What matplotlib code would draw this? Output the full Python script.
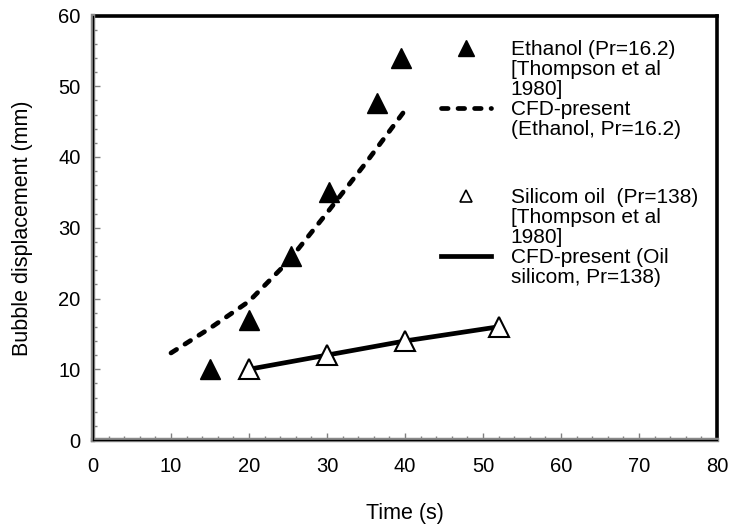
import matplotlib
matplotlib.use("Agg")
import matplotlib.pyplot as plt
from matplotlib.lines import Line2D
from matplotlib.ticker import MultipleLocator

plt.rcParams['font.family'] = ['Liberation Sans', 'DejaVu Sans']

# Experimental ethanol (Thompson et al 1980)
eth_t = [15, 20, 25.4, 30.3, 36.4, 39.5]
eth_y = [10, 17, 26, 35, 47.6, 54]
# CFD ethanol
cfd_eth_t = [10, 15, 20, 25, 30, 35, 40]
cfd_eth_y = [12.3, 15.8, 19.6, 25.2, 32.1, 39.2, 46.6]
# Experimental silicone oil
oil_t = [20, 30, 40, 52]
oil_y = [10, 12, 14, 16]
# CFD oil
cfd_oil_t = [20, 30, 40, 52]
cfd_oil_y = [10, 12, 14, 16]

x_ticks = [0, 10, 20, 30, 40, 50, 60, 70, 80]
y_ticks = [0, 10, 20, 30, 40, 50, 60]

fig = plt.figure(figsize=(7.3, 5.25), dpi=100)
ax = fig.add_axes([93/730, 85/525, 624/730, 424.5/525])

ax.plot(cfd_eth_t, cfd_eth_y, color='black', lw=3.4,
        linestyle=(0, (1.4, 2.1)), dash_capstyle='round', zorder=2)
ax.plot(cfd_oil_t, cfd_oil_y, color='black', lw=3.4, solid_capstyle='butt', zorder=2)
ax.plot(eth_t, eth_y, linestyle='none', marker='^', markersize=15,
        markerfacecolor='black', markeredgecolor='black', zorder=3)
ax.plot(oil_t, oil_y, linestyle='none', marker='^', markersize=15,
        markerfacecolor='white', markeredgecolor='black', markeredgewidth=1.5, zorder=3)

ax.set_xlim(0, 80)
ax.set_ylim(0, 60)
ax.set_xticks(x_ticks)
ax.set_yticks(y_ticks)
ax.xaxis.set_minor_locator(MultipleLocator(2))
ax.yaxis.set_minor_locator(MultipleLocator(2))
ax.tick_params(which='major', direction='in', length=5, width=1, color='#808080',
               labelsize=14.5, pad=9)
ax.tick_params(which='minor', direction='in', length=3, width=1, color='#808080')
ax.tick_params(axis='x', pad=12)

for s in ['top', 'right']:
    ax.spines[s].set_color('black')
    ax.spines[s].set_linewidth(2.6)
for s in ['left', 'bottom']:
    ax.spines[s].set_color('#8a8a8a')
    ax.spines[s].set_linewidth(3.2)
    ax.spines[s].set_zorder(4)
ax.axhline(0, color='black', lw=0.9, zorder=5, clip_on=False)
ax.axvline(0, color='black', lw=0.9, zorder=5, clip_on=False)

ax.set_xlabel('Time (s)', fontsize=15.5, labelpad=20)
ax.set_ylabel('Bubble displacement (mm)', fontsize=15.5, labelpad=18)

blank = Line2D([], [], linestyle='none')
h_eth = Line2D([], [], linestyle='none', marker='^', markersize=11,
               markerfacecolor='black', markeredgecolor='black')
h_cfd_eth = Line2D([], [], color='black', lw=3.4, linestyle=(0, (1.4, 2.1)),
                   dash_capstyle='round')
h_oil = Line2D([], [], linestyle='none', marker='^', markersize=9,
               markerfacecolor='white', markeredgecolor='black', markeredgewidth=1.2)
h_cfd_oil = Line2D([], [], color='black', lw=3.4)

common = dict(frameon=False, fontsize=15, labelspacing=0.05, handlelength=2.4,
              handletextpad=0.95, borderpad=0, borderaxespad=0,
              loc='upper left', bbox_transform=fig.transFigure)

leg1 = ax.legend([h_eth, blank, blank, h_cfd_eth, blank],
                 ['Ethanol (Pr=16.2)', '[Thompson et al', '1980]',
                  'CFD-present', '(Ethanol, Pr=16.2)'],
                 bbox_to_anchor=(441/730, 1 - 40/525), **common)
ax.add_artist(leg1)
leg2 = ax.legend([h_oil, blank, blank, h_cfd_oil, blank],
                 ['Silicom oil  (Pr=138)', '[Thompson et al', '1980]',
                  'CFD-present (Oil', 'silicom, Pr=138)'],
                 bbox_to_anchor=(441/730, 1 - 188/525), **common)

fig.savefig('out.png', dpi=100)
